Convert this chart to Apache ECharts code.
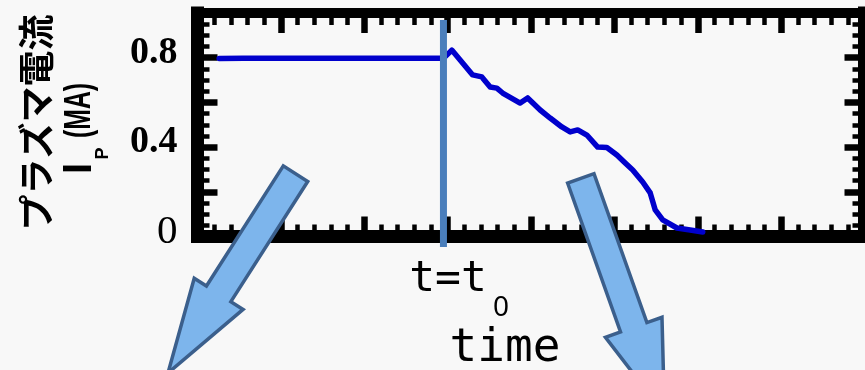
<!DOCTYPE html>
<html>
<head>
<meta charset="utf-8">
<script src="https://cdn.jsdelivr.net/npm/echarts@6/dist/echarts.min.js"></script>
<style>
  html, body { margin: 0; padding: 0; background: #f8f8f8; }
  #chart { width: 865px; height: 370px; }
</style>
</head>
<body>
<div id="chart"></div>
<script>
// Plasma current trace (time in arbitrary units, current in MA)
const time = [0.26, 0.55, 0.85, 1.15, 1.45, 1.75, 2.05, 2.35, 2.65, 2.95,
  3.05, 3.30, 3.41, 3.51, 3.59, 3.66, 3.87, 3.96, 4.11, 4.23, 4.37, 4.47,
  4.56, 4.67, 4.80, 4.91, 5.03, 5.13, 5.22, 5.34, 5.43, 5.49, 5.58, 5.75,
  5.91, 6.06];
const current = [0.796, 0.797, 0.798, 0.797, 0.798, 0.798, 0.797, 0.798, 0.797, 0.797,
  0.834, 0.723, 0.714, 0.669, 0.664, 0.642, 0.597, 0.620, 0.566, 0.530, 0.490, 0.468,
  0.477, 0.454, 0.400, 0.398, 0.365, 0.329, 0.298, 0.244, 0.195, 0.119, 0.074, 0.038,
  0.029, 0.020];

// Marker for t = t0, running slightly past the bottom of the frame
const t0 = 2.95;
const t0Span = [0.969, -0.047];

// Tick labels shown on the current axis
const yLabelled = [0, 0.4, 0.8];
const yLabelText = ['0', '0.4', '0.8'];

const chart = echarts.init(document.getElementById('chart'), null, { renderer: 'canvas' });

// Heavy black frame with inward major and minor ticks on every side
function frameAxis(lineWidth) {
  return {
    axisLine: { show: true, onZero: false, lineStyle: { color: '#000', width: lineWidth, cap: 'square' } },
    axisTick: { show: true, inside: true, length: 20, lineStyle: { color: '#000', width: 6.5 } },
    minorTick: { show: true, length: 12, lineStyle: { color: '#000', width: 4.5 } },
    splitLine: { show: false },
    minorSplitLine: { show: false },
    axisLabel: { show: false }
  };
}
function xFrame(position, lineWidth) {
  const a = frameAxis(lineWidth);
  a.type = 'value'; a.position = position; a.min = 0; a.max = 8; a.interval = 1;
  a.minorTick.splitNumber = 5;
  return a;
}
function yFrame(position, lineWidth) {
  const a = frameAxis(lineWidth);
  a.type = 'value'; a.position = position; a.min = 0; a.max = 1; a.interval = 0.2;
  a.minorTick.splitNumber = 4;
  return a;
}

const yLeft = yFrame('left', 13);
yLeft.axisLabel = {
  show: true, margin: 20, color: '#000',
  fontFamily: '"Liberation Serif", serif', fontWeight: 'bold', fontSize: 38,
  padding: [0, 0, 9, 0],
  formatter: function (v) {
    const i = yLabelled.findIndex(function (u) { return Math.abs(u - v) < 1e-6; });
    if (i < 0) return '';
    return v === 0 ? '{z|' + yLabelText[i] + '}' : yLabelText[i];
  },
  rich: { z: { fontFamily: '"Liberation Serif", serif', fontWeight: 'normal', fontSize: 41, color: '#000' } }
};

// Block arrow polygon from tail centre to tip
function arrowPoints(tail, tip, shaftW, headW, headL) {
  const dx = tip[0] - tail[0], dy = tip[1] - tail[1];
  const L = Math.hypot(dx, dy);
  const ux = dx / L, uy = dy / L, px = -uy, py = ux;
  const bx = tip[0] - ux * headL, by = tip[1] - uy * headL;
  return [
    [tail[0] + px * shaftW / 2, tail[1] + py * shaftW / 2],
    [bx + px * shaftW / 2, by + py * shaftW / 2],
    [bx + px * headW / 2, by + py * headW / 2],
    [tip[0], tip[1]],
    [bx - px * headW / 2, by - py * headW / 2],
    [bx - px * shaftW / 2, by - py * shaftW / 2],
    [tail[0] - px * shaftW / 2, tail[1] - py * shaftW / 2]
  ];
}
const arrowStyle = { fill: '#7db5ec', stroke: '#3b5f8c', lineWidth: 3.5, lineJoin: 'miter' };

// Text placed by its centre; rotated text sits in a group so that any
// horizontal squeeze acts along the writing direction.
function label(text, x, y, family, size, weight, rotation, squeeze) {
  return {
    type: 'group', x: x, y: y, rotation: rotation || 0, z: 60,
    children: [{
      type: 'text', z: 60, scaleX: squeeze || 1, scaleY: 1,
      style: {
        text: text, x: 0, y: 0, fill: '#000',
        fontFamily: family, fontSize: size, fontWeight: weight || 'normal',
        align: 'center', verticalAlign: 'middle', textAlign: 'center', textVerticalAlign: 'middle'
      }
    }]
  };
}

const R = Math.PI / 2;
const option = {
  backgroundColor: '#f8f8f8',
  animation: false,
  grid: { left: 197.5, right: 0.5, top: 13, bottom: 133.5, containLabel: false },
  xAxis: [xFrame('bottom', 13), xFrame('top', 10)],
  yAxis: [yLeft, yFrame('right', 13)],
  series: [
    {
      name: 'Ip', type: 'line', xAxisIndex: 0, yAxisIndex: 0,
      data: time.map(function (t, i) { return [t, current[i]]; }),
      showSymbol: false, symbol: 'none',
      lineStyle: { color: '#0000cc', width: 5.5, join: 'round', cap: 'round' },
      z: 3
    },
    {
      name: 't0', type: 'line', xAxisIndex: 0, yAxisIndex: 0, clip: false,
      data: [[t0, t0Span[0]], [t0, t0Span[1]]],
      showSymbol: false, symbol: 'none',
      lineStyle: { color: '#4a7ebb', width: 7, cap: 'butt' },
      z: 4
    }
  ],
  graphic: [
    { type: 'polygon', z: 50, shape: { points: arrowPoints([295.5, 173.7], [168, 373], 29, 58, 94) }, style: arrowStyle },
    { type: 'polygon', z: 50, shape: { points: arrowPoints([580.8, 178.3], [664.5, 414], 28, 60, 92) }, style: arrowStyle },
    label('プラズマ電流', 36, 122.5, 'Noto Sans CJK JP', 36, 'bold', R),
    label('I', 79.5, 168.5, 'Liberation Sans', 40, 'bold', R),
    label('P', 103.5, 153.5, 'Liberation Sans', 18, 'bold', R),
    label('(MA)', 80.5, 110.5, 'Liberation Sans', 36, 'bold', R, 0.69),
    label('t=t', 448, 280, 'DejaVu Sans Mono', 43),
    label('0', 501, 308, 'Noto Sans', 28),
    label('time', 505, 349, 'DejaVu Sans Mono', 46)
  ]
};
chart.setOption(option);
</script>
</body>
</html>
